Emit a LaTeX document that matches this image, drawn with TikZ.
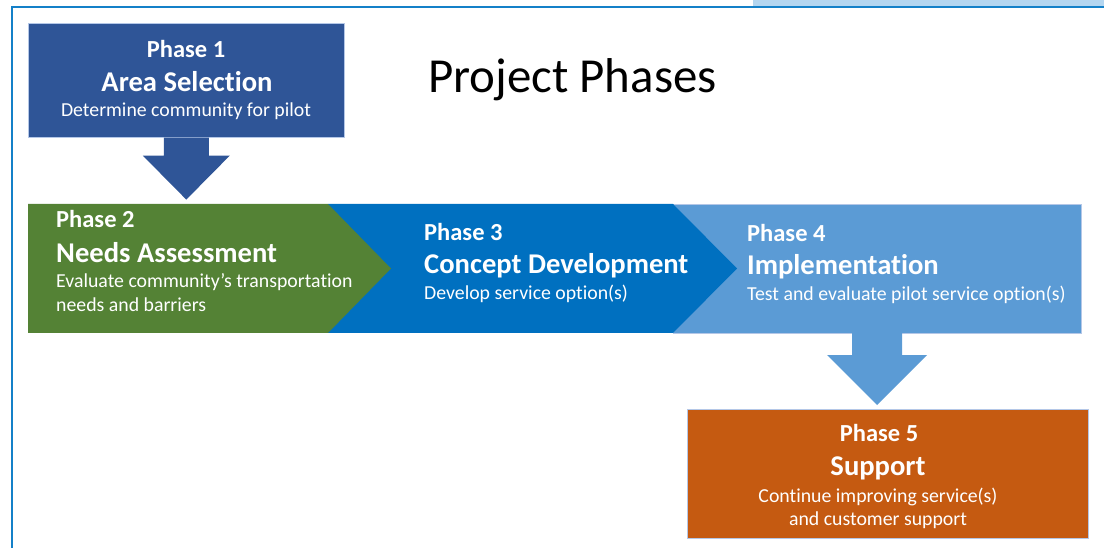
\documentclass[tikz,border=0pt]{standalone}
\usepackage{fontspec}
\setmainfont{Carlito}[Ligatures=NoCommon]
\usepackage{xcolor}
\usepackage{tikz}
\usetikzlibrary{arrows.meta}
\definecolor{phaseone}{HTML}{2F5597}
\definecolor{phasetwo}{HTML}{548235}
\definecolor{phasethree}{HTML}{0070C0}
\definecolor{phasefour}{HTML}{5B9BD5}
\definecolor{phasefive}{HTML}{C55A11}
\definecolor{framecol}{HTML}{1480C8}
\definecolor{tabcol}{HTML}{B4D6F0}
\definecolor{edgecol}{HTML}{B4C7E7}

\begin{document}
\begin{tikzpicture}[>=Stealth, x=1pt, y=-1pt,
    phasenum/.style={text=white, inner sep=0pt, font=\fontsize{24.5}{28}\selectfont\bfseries},
    phasename/.style={text=white, inner sep=0pt, font=\fontsize{28.6}{32}\selectfont\bfseries},
    phasetext/.style={text=white, inner sep=0pt, font=\fontsize{19.8}{24}\selectfont},
    phasebox/.style={draw=edgecol, line width=0.6pt, inner sep=0pt, anchor=north west}]
        \useasboundingbox (0,0) rectangle (1104,548);
        \pgfmathsetmacro{\bandtop}{204}
        \pgfmathsetmacro{\bandbot}{333}
        % frame
        \fill [tabcol] (753,0) rectangle (1104,6);
        \draw [framecol, line width=2.5pt] (12,548) -- (12,7) -- (1104,7);

        \node[font=\fontsize{48.9}{56}\selectfont, anchor=base west, inner sep=0pt] (title) at (428,93) {Project Phases};

        % phase 1 box and arrow
        \node[phasebox, fill=phaseone, minimum width=316pt, minimum height=114pt] (p1) at (28,23) {};
        \fill [phaseone] ([xshift=-22.5pt]p1.south) -- ++(0,18) -- ++(-21,0) -- ++(43.5,44)
            -- ++(43.5,-44) -- ++(-21,0) -- ++(0,-18) -- cycle;

        % band of chevrons
        \filldraw [phasefour, draw=edgecol, line width=0.6pt] (673,\bandtop) rectangle (1081,\bandbot);
        \fill [phasethree] (328,\bandtop) -- (673,\bandtop) -- (737,268.5) -- (673,\bandbot) -- (328,\bandbot) -- cycle;
        \fill [phasetwo] (28,\bandtop) -- (328,\bandtop) -- (391,268.5) -- (328,\bandbot) -- (28,\bandbot) -- cycle;
        \coordinate (drop) at (877,\bandbot);

        % phase 5 box and arrow
        \node[phasebox, fill=phasefive, minimum width=401pt, minimum height=129pt] (p5) at (687,409) {};
        \fill [phasefour] ([xshift=-25pt]drop) -- ++(0,22) -- ++(-25,0) -- ++(50,50)
            -- ++(50,-50) -- ++(-25,0) -- ++(0,-22) -- cycle;

        % texts
        \node[phasenum, anchor=base] (p1num) at (186,58) {Phase 1};
        \node[phasename, anchor=base] (p1name) at (187,92) {Area Selection};
        \node[phasetext, anchor=base] (p1desc) at (186,117) {Determine community for pilot};

        \node[phasenum, anchor=base west] (p2num) at (56,228) {Phase 2};
        \node[phasename, anchor=base west] (p2name) at (56,263) {Needs Assessment};
        \node[phasetext, anchor=base west] (p2desc) at (56,288) {Evaluate community’s transportation};
        \node[phasetext, anchor=base west] (p2descb) at (56,312) {needs and barriers};

        \node[phasenum, anchor=base west] (p3num) at (424,241) {Phase 3};
        \node[phasename, anchor=base west] (p3name) at (424,274) {Concept Development};
        \node[phasetext, anchor=base west] (p3desc) at (424,300) {Develop service option(s)};

        \node[phasenum, anchor=base west] (p4num) at (747,242) {Phase 4};
        \node[phasename, anchor=base west] (p4name) at (747,275) {Implementation};
        \node[phasetext, anchor=base west] (p4desc) at (747,301) {Test and evaluate pilot service option(s)};

        \node[phasenum, anchor=base] (p5num) at (879,441) {Phase 5};
        \node[phasename, anchor=base] (p5name) at (878,475) {Support};
        \node[phasetext, anchor=base] (p5desc) at (878,502) {Continue improving service(s)};
        \node[phasetext, anchor=base] (p5descb) at (878,525) {and customer support};
    \end{tikzpicture}
\end{document}
